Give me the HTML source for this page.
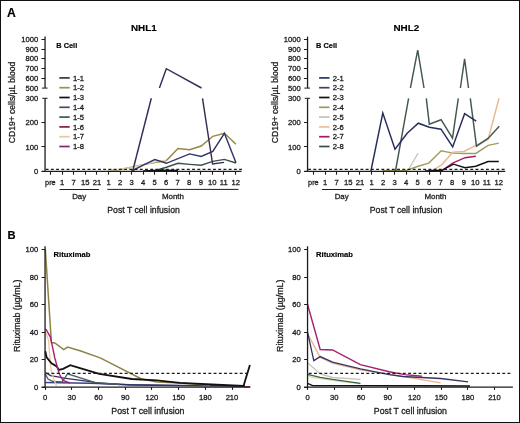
<!DOCTYPE html>
<html><head><meta charset="utf-8"><style>
html,body{margin:0;padding:0;background:#fff;}
svg{display:block;filter:blur(0.45px);}
text{font-family:"Liberation Sans", sans-serif;}
</style></head><body>
<svg width="520" height="423" viewBox="0 0 520 423" font-family='"Liberation Sans", sans-serif'>
<rect x="0" y="0" width="520" height="423" fill="#fff"/>
<polyline points="108.40,170.60 120.00,169.50 131.60,167.30 143.20,164.60 154.80,162.50 166.40,160.50 178.00,148.50 189.60,149.80 201.20,146.00 212.80,136.30 224.40,133.30 236.00,144.30" fill="none" stroke="#978646" stroke-width="1.45" stroke-linejoin="miter" stroke-linecap="butt" />
<polyline points="108.40,170.60 131.60,167.60 154.80,161.80 166.40,160.00" fill="none" stroke="#e6dcae" stroke-width="1.2" stroke-linejoin="miter" stroke-linecap="butt" />
<polyline points="154.80,170.80 166.40,167.20 178.00,163.30 189.60,164.40 201.20,165.30 212.80,161.40 224.40,159.40 236.00,163.00" fill="none" stroke="#3c5048" stroke-width="1.45" stroke-linejoin="miter" stroke-linecap="butt" />
<polyline points="131.60,171.00 143.20,165.20 154.80,159.50 166.40,163.30 189.60,153.90 201.20,156.50 212.80,151.40 224.40,133.30 236.00,162.80" fill="none" stroke="#2f3568" stroke-width="1.45" stroke-linejoin="miter" stroke-linecap="butt" />
<polyline points="132.60,171.20 151.30,98.30" fill="none" stroke="#3a2b58" stroke-width="1.45" stroke-linejoin="miter" stroke-linecap="butt" />
<polyline points="159.40,88.00 166.30,68.70 201.50,88.00" fill="none" stroke="#3a2b58" stroke-width="1.45" stroke-linejoin="miter" stroke-linecap="butt" />
<polyline points="202.50,98.30 212.60,164.00 224.00,162.40" fill="none" stroke="#3a2b58" stroke-width="1.45" stroke-linejoin="miter" stroke-linecap="butt" />
<polyline points="152.00,171.00 166.40,171.00" fill="none" stroke="#b0284a" stroke-width="1.4" stroke-linejoin="miter" stroke-linecap="butt" />
<polyline points="143.20,171.00 154.80,170.40 166.40,170.20 178.00,170.40" fill="none" stroke="#111" stroke-width="1.4" stroke-linejoin="miter" stroke-linecap="butt" />
<polyline points="408.10,170.20 418.10,153.10" fill="none" stroke="#c6c2ba" stroke-width="1.2" stroke-linejoin="miter" stroke-linecap="butt" />
<polyline points="382.50,170.60 405.70,170.60 418.10,166.20 428.80,163.10 441.20,150.80 452.70,153.10 464.20,153.40 475.80,153.40 488.10,145.40 498.80,143.10" fill="none" stroke="#a39c62" stroke-width="1.45" stroke-linejoin="miter" stroke-linecap="butt" />
<polyline points="429.00,171.00 434.20,169.70 441.90,164.60 452.70,152.30 464.20,151.50 475.80,145.40 488.10,139.50 499.00,98.30" fill="none" stroke="#e9b98e" stroke-width="1.45" stroke-linejoin="miter" stroke-linecap="butt" />
<polyline points="441.90,170.50 452.70,163.10 465.00,157.70 475.80,156.20" fill="none" stroke="#a8186c" stroke-width="1.45" stroke-linejoin="miter" stroke-linecap="butt" />
<polyline points="425.00,171.00 441.90,170.30 453.50,164.20 465.00,167.70 475.80,166.20 488.10,161.50 498.80,161.50" fill="none" stroke="#111" stroke-width="1.4" stroke-linejoin="miter" stroke-linecap="butt" />
<polyline points="395.50,171.00 408.60,98.30" fill="none" stroke="#435850" stroke-width="1.45" stroke-linejoin="miter" stroke-linecap="butt" />
<polyline points="410.40,88.00 417.70,50.20 424.00,88.00" fill="none" stroke="#435850" stroke-width="1.45" stroke-linejoin="miter" stroke-linecap="butt" />
<polyline points="426.30,98.30 429.30,124.20 441.10,119.70 452.50,138.20 458.30,98.30" fill="none" stroke="#435850" stroke-width="1.45" stroke-linejoin="miter" stroke-linecap="butt" />
<polyline points="460.40,88.00 464.60,58.80 468.50,88.00" fill="none" stroke="#435850" stroke-width="1.45" stroke-linejoin="miter" stroke-linecap="butt" />
<polyline points="470.30,98.30 476.50,146.20 488.30,138.20 499.30,126.20" fill="none" stroke="#435850" stroke-width="1.45" stroke-linejoin="miter" stroke-linecap="butt" />
<polyline points="370.90,171.00 382.80,113.10 395.00,149.20 407.20,133.20 418.30,123.20 429.30,127.20 441.00,129.20 452.70,146.90 464.60,113.70 476.20,121.20" fill="none" stroke="#272d5c" stroke-width="1.45" stroke-linejoin="miter" stroke-linecap="butt" />
<polyline points="45.30,382.50 90.00,383.20 130.00,384.60 200.00,385.60 245.00,386.00" fill="none" stroke="#3c4288" stroke-width="1.4" stroke-linejoin="miter" stroke-linecap="butt" />
<polyline points="45.30,372.50 50.60,375.70 59.20,377.10 64.00,378.10 90.00,381.60 99.20,383.30 130.00,385.00 180.00,385.60 245.00,385.90" fill="none" stroke="#33305e" stroke-width="1.4" stroke-linejoin="miter" stroke-linecap="butt" />
<polyline points="45.30,374.00 48.00,379.00 53.00,381.50 62.10,382.00 67.50,373.80 94.60,382.40 120.00,384.50" fill="none" stroke="#4a5e62" stroke-width="1.3" stroke-linejoin="miter" stroke-linecap="butt" />
<polyline points="45.30,331.00 48.50,340.00 50.90,369.50 53.80,379.00 56.50,386.00" fill="none" stroke="#ecc9a0" stroke-width="1.3" stroke-linejoin="miter" stroke-linecap="butt" />
<polyline points="45.30,249.00 51.40,342.50 54.80,343.00 63.70,349.70 67.60,347.10 80.00,350.80 100.20,357.90 141.50,379.00 156.90,381.90 180.00,383.00 210.00,385.20" fill="none" stroke="#8e8244" stroke-width="1.5" stroke-linejoin="miter" stroke-linecap="butt" />
<polyline points="45.30,351.30 46.60,357.30 51.50,363.20 56.80,366.50 58.80,369.90 63.10,368.90 70.30,365.10 80.00,368.10 99.20,373.80 131.90,379.00 156.90,380.40 180.00,382.90 243.50,386.00 249.90,365.10" fill="none" stroke="#111" stroke-width="1.8" stroke-linejoin="miter" stroke-linecap="butt" />
<polyline points="45.30,329.00 46.30,329.70 50.50,337.30 54.80,358.00 59.20,373.80 63.00,380.50 70.00,383.00" fill="none" stroke="#a8207a" stroke-width="1.4" stroke-linejoin="miter" stroke-linecap="butt" />
<polyline points="244.00,386.80 250.00,386.80" fill="none" stroke="#7a3040" stroke-width="1.4" stroke-linejoin="miter" stroke-linecap="butt" />
<polyline points="307.50,383.30 312.70,385.60 420.00,385.80 470.00,386.00" fill="none" stroke="#111" stroke-width="1.4" stroke-linejoin="miter" stroke-linecap="butt" />
<polyline points="307.50,375.30 311.50,377.40 320.00,378.50 332.50,380.50 360.40,383.80" fill="none" stroke="#d8da9a" stroke-width="1.2" stroke-linejoin="miter" stroke-linecap="butt" />
<polyline points="307.50,374.40 320.20,377.30 332.50,379.40 360.40,383.30" fill="none" stroke="#3a6050" stroke-width="1.3" stroke-linejoin="miter" stroke-linecap="butt" />
<polyline points="307.50,362.80 320.20,374.00 332.50,377.50 360.40,379.40" fill="none" stroke="#c6c4bc" stroke-width="1.3" stroke-linejoin="miter" stroke-linecap="butt" />
<polyline points="307.50,333.50 320.20,357.40 332.50,363.10 360.40,369.80 389.20,374.20 420.00,379.40 440.70,382.80" fill="none" stroke="#e6b48c" stroke-width="1.3" stroke-linejoin="miter" stroke-linecap="butt" />
<polyline points="307.50,331.80 313.80,360.60 320.20,356.60 332.50,362.10 360.40,368.80 389.20,374.60 402.70,376.50 440.70,378.50 468.10,381.90" fill="none" stroke="#3a3262" stroke-width="1.3" stroke-linejoin="miter" stroke-linecap="butt" />
<polyline points="307.50,304.30 320.20,349.50 332.50,350.00 360.40,364.60 389.20,371.70 404.60,374.60 422.00,376.20" fill="none" stroke="#a4206e" stroke-width="1.4" stroke-linejoin="miter" stroke-linecap="butt" />
<line x1="45.05" y1="36.60" x2="45.05" y2="88.10" stroke="#1c1c1c" stroke-width="1.3" />
<line x1="45.05" y1="98.30" x2="45.05" y2="171.90" stroke="#1c1c1c" stroke-width="1.3" />
<line x1="41.85" y1="88.10" x2="47.55" y2="88.10" stroke="#1c1c1c" stroke-width="1.0" />
<line x1="42.25" y1="98.30" x2="47.55" y2="98.30" stroke="#1c1c1c" stroke-width="1.0" />
<line x1="41.45" y1="39.50" x2="45.05" y2="39.50" stroke="#1c1c1c" stroke-width="1.0" />
<text x="38.15" y="42.00" font-size="7.65" text-anchor="end" fill="#1a1a1a" stroke="#1a1a1a" stroke-width="0.28" >1000</text>
<line x1="41.45" y1="49.50" x2="45.05" y2="49.50" stroke="#1c1c1c" stroke-width="1.0" />
<text x="38.15" y="51.74" font-size="7.65" text-anchor="end" fill="#1a1a1a" stroke="#1a1a1a" stroke-width="0.28" >900</text>
<line x1="41.45" y1="58.50" x2="45.05" y2="58.50" stroke="#1c1c1c" stroke-width="1.0" />
<text x="38.15" y="61.48" font-size="7.65" text-anchor="end" fill="#1a1a1a" stroke="#1a1a1a" stroke-width="0.28" >800</text>
<line x1="41.45" y1="68.50" x2="45.05" y2="68.50" stroke="#1c1c1c" stroke-width="1.0" />
<text x="38.15" y="71.22" font-size="7.65" text-anchor="end" fill="#1a1a1a" stroke="#1a1a1a" stroke-width="0.28" >700</text>
<line x1="41.45" y1="78.50" x2="45.05" y2="78.50" stroke="#1c1c1c" stroke-width="1.0" />
<text x="38.15" y="80.96" font-size="7.65" text-anchor="end" fill="#1a1a1a" stroke="#1a1a1a" stroke-width="0.28" >600</text>
<text x="38.15" y="90.70" font-size="7.65" text-anchor="end" fill="#1a1a1a" stroke="#1a1a1a" stroke-width="0.28" >500</text>
<text x="38.15" y="100.91" font-size="7.65" text-anchor="end" fill="#1a1a1a" stroke="#1a1a1a" stroke-width="0.28" >300</text>
<line x1="41.45" y1="122.50" x2="45.05" y2="122.50" stroke="#1c1c1c" stroke-width="1.0" />
<text x="38.15" y="125.24" font-size="7.65" text-anchor="end" fill="#1a1a1a" stroke="#1a1a1a" stroke-width="0.28" >200</text>
<line x1="41.45" y1="146.50" x2="45.05" y2="146.50" stroke="#1c1c1c" stroke-width="1.0" />
<text x="38.15" y="149.57" font-size="7.65" text-anchor="end" fill="#1a1a1a" stroke="#1a1a1a" stroke-width="0.28" >100</text>
<line x1="41.45" y1="171.50" x2="45.05" y2="171.50" stroke="#1c1c1c" stroke-width="1.0" />
<text x="38.15" y="173.90" font-size="7.65" text-anchor="end" fill="#1a1a1a" stroke="#1a1a1a" stroke-width="0.28" >0</text>
<line x1="41.85" y1="171.30" x2="241.50" y2="171.30" stroke="#1c1c1c" stroke-width="1.25" />
<line x1="50.50" y1="171.30" x2="50.50" y2="174.70" stroke="#1c1c1c" stroke-width="1.1" />
<text x="50.40" y="184.80" font-size="7.65" text-anchor="middle" fill="#1a1a1a" stroke="#1a1a1a" stroke-width="0.28" textLength="10.6" lengthAdjust="spacingAndGlyphs" >pre</text>
<line x1="62.50" y1="171.30" x2="62.50" y2="174.70" stroke="#1c1c1c" stroke-width="1.1" />
<text x="62.20" y="184.80" font-size="7.65" text-anchor="middle" fill="#1a1a1a" stroke="#1a1a1a" stroke-width="0.28" >1</text>
<line x1="73.50" y1="171.30" x2="73.50" y2="174.70" stroke="#1c1c1c" stroke-width="1.1" />
<text x="73.70" y="184.80" font-size="7.65" text-anchor="middle" fill="#1a1a1a" stroke="#1a1a1a" stroke-width="0.28" >7</text>
<line x1="85.50" y1="171.30" x2="85.50" y2="174.70" stroke="#1c1c1c" stroke-width="1.1" />
<text x="85.30" y="184.80" font-size="7.65" text-anchor="middle" fill="#1a1a1a" stroke="#1a1a1a" stroke-width="0.28" >15</text>
<line x1="96.50" y1="171.30" x2="96.50" y2="174.70" stroke="#1c1c1c" stroke-width="1.1" />
<text x="96.90" y="184.80" font-size="7.65" text-anchor="middle" fill="#1a1a1a" stroke="#1a1a1a" stroke-width="0.28" >21</text>
<line x1="108.50" y1="171.30" x2="108.50" y2="174.70" stroke="#1c1c1c" stroke-width="1.1" />
<text x="108.50" y="184.80" font-size="7.65" text-anchor="middle" fill="#1a1a1a" stroke="#1a1a1a" stroke-width="0.28" >1</text>
<line x1="120.50" y1="171.30" x2="120.50" y2="174.70" stroke="#1c1c1c" stroke-width="1.1" />
<text x="120.10" y="184.80" font-size="7.65" text-anchor="middle" fill="#1a1a1a" stroke="#1a1a1a" stroke-width="0.28" >2</text>
<line x1="131.50" y1="171.30" x2="131.50" y2="174.70" stroke="#1c1c1c" stroke-width="1.1" />
<text x="131.50" y="184.80" font-size="7.65" text-anchor="middle" fill="#1a1a1a" stroke="#1a1a1a" stroke-width="0.28" >3</text>
<line x1="143.50" y1="171.30" x2="143.50" y2="174.70" stroke="#1c1c1c" stroke-width="1.1" />
<text x="143.20" y="184.80" font-size="7.65" text-anchor="middle" fill="#1a1a1a" stroke="#1a1a1a" stroke-width="0.28" >4</text>
<line x1="154.50" y1="171.30" x2="154.50" y2="174.70" stroke="#1c1c1c" stroke-width="1.1" />
<text x="154.70" y="184.80" font-size="7.65" text-anchor="middle" fill="#1a1a1a" stroke="#1a1a1a" stroke-width="0.28" >5</text>
<line x1="166.50" y1="171.30" x2="166.50" y2="174.70" stroke="#1c1c1c" stroke-width="1.1" />
<text x="166.20" y="184.80" font-size="7.65" text-anchor="middle" fill="#1a1a1a" stroke="#1a1a1a" stroke-width="0.28" >6</text>
<line x1="177.50" y1="171.30" x2="177.50" y2="174.70" stroke="#1c1c1c" stroke-width="1.1" />
<text x="177.70" y="184.80" font-size="7.65" text-anchor="middle" fill="#1a1a1a" stroke="#1a1a1a" stroke-width="0.28" >7</text>
<line x1="189.50" y1="171.30" x2="189.50" y2="174.70" stroke="#1c1c1c" stroke-width="1.1" />
<text x="189.20" y="184.80" font-size="7.65" text-anchor="middle" fill="#1a1a1a" stroke="#1a1a1a" stroke-width="0.28" >8</text>
<line x1="200.50" y1="171.30" x2="200.50" y2="174.70" stroke="#1c1c1c" stroke-width="1.1" />
<text x="200.80" y="184.80" font-size="7.65" text-anchor="middle" fill="#1a1a1a" stroke="#1a1a1a" stroke-width="0.28" >9</text>
<line x1="212.50" y1="171.30" x2="212.50" y2="174.70" stroke="#1c1c1c" stroke-width="1.1" />
<text x="212.30" y="184.80" font-size="7.65" text-anchor="middle" fill="#1a1a1a" stroke="#1a1a1a" stroke-width="0.28" >10</text>
<line x1="223.50" y1="171.30" x2="223.50" y2="174.70" stroke="#1c1c1c" stroke-width="1.1" />
<text x="223.80" y="184.80" font-size="7.65" text-anchor="middle" fill="#1a1a1a" stroke="#1a1a1a" stroke-width="0.28" >11</text>
<line x1="235.50" y1="171.30" x2="235.50" y2="174.70" stroke="#1c1c1c" stroke-width="1.1" />
<text x="235.70" y="184.80" font-size="7.65" text-anchor="middle" fill="#1a1a1a" stroke="#1a1a1a" stroke-width="0.28" >12</text>
<line x1="45.65" y1="169.30" x2="242.00" y2="169.30" stroke="#1c1c1c" stroke-width="1.15" stroke-dasharray="2.9 2.33"/>
<line x1="59.50" y1="189.50" x2="99.00" y2="189.50" stroke="#1c1c1c" stroke-width="1.0" />
<line x1="107.30" y1="189.40" x2="238.50" y2="189.40" stroke="#1c1c1c" stroke-width="1.0" />
<text x="79.20" y="198.90" font-size="7.9" text-anchor="middle" fill="#1a1a1a" stroke="#1a1a1a" stroke-width="0.28" >Day</text>
<text x="161.90" y="199.40" font-size="7.9" text-anchor="start" fill="#1a1a1a" stroke="#1a1a1a" stroke-width="0.28" textLength="22.1" lengthAdjust="spacingAndGlyphs" >Month</text>
<text x="107.30" y="212.90" font-size="9.1" text-anchor="start" fill="#1a1a1a" stroke="#1a1a1a" stroke-width="0.28" textLength="72.5" lengthAdjust="spacingAndGlyphs" >Post T cell infusion</text>
<text x="130.90" y="31.00" font-size="9.9" text-anchor="start" font-weight="bold" fill="#000" stroke="#000" stroke-width="0.15" >NHL1</text>
<text x="56.30" y="47.90" font-size="7.6" text-anchor="start" font-weight="bold" fill="#000" stroke="#000" stroke-width="0.15" textLength="20.9" lengthAdjust="spacingAndGlyphs" >B Cell</text>
<text transform="translate(15.40,102.5) rotate(-90)" font-size="8.6" text-anchor="middle" fill="#1a1a1a" stroke="#1a1a1a" stroke-width="0.28" textLength="81.4" lengthAdjust="spacingAndGlyphs">CD19+ cells/µL blood</text>
<line x1="59.30" y1="77.90" x2="69.70" y2="77.90" stroke="#34384a" stroke-width="1.7" />
<text x="72.90" y="80.50" font-size="7.65" text-anchor="start" fill="#1a1a1a" stroke="#1a1a1a" stroke-width="0.28" >1-1</text>
<line x1="59.30" y1="87.70" x2="69.70" y2="87.70" stroke="#9c8e5c" stroke-width="1.7" />
<text x="72.90" y="90.30" font-size="7.65" text-anchor="start" fill="#1a1a1a" stroke="#1a1a1a" stroke-width="0.28" >1-2</text>
<line x1="59.30" y1="97.50" x2="69.70" y2="97.50" stroke="#111111" stroke-width="1.7" />
<text x="72.90" y="100.10" font-size="7.65" text-anchor="start" fill="#1a1a1a" stroke="#1a1a1a" stroke-width="0.28" >1-3</text>
<line x1="59.30" y1="107.30" x2="69.70" y2="107.30" stroke="#46486c" stroke-width="1.7" />
<text x="72.90" y="109.90" font-size="7.65" text-anchor="start" fill="#1a1a1a" stroke="#1a1a1a" stroke-width="0.28" >1-4</text>
<line x1="59.30" y1="117.10" x2="69.70" y2="117.10" stroke="#375a4c" stroke-width="1.7" />
<text x="72.90" y="119.70" font-size="7.65" text-anchor="start" fill="#1a1a1a" stroke="#1a1a1a" stroke-width="0.28" >1-5</text>
<line x1="59.30" y1="126.90" x2="69.70" y2="126.90" stroke="#86203f" stroke-width="1.7" />
<text x="72.90" y="129.50" font-size="7.65" text-anchor="start" fill="#1a1a1a" stroke="#1a1a1a" stroke-width="0.28" >1-6</text>
<line x1="59.30" y1="136.70" x2="69.70" y2="136.70" stroke="#e0cba6" stroke-width="1.7" />
<text x="72.90" y="139.30" font-size="7.65" text-anchor="start" fill="#1a1a1a" stroke="#1a1a1a" stroke-width="0.28" >1-7</text>
<line x1="59.30" y1="146.50" x2="69.70" y2="146.50" stroke="#7e2868" stroke-width="1.7" />
<text x="72.90" y="149.10" font-size="7.65" text-anchor="start" fill="#1a1a1a" stroke="#1a1a1a" stroke-width="0.28" >1-8</text>
<line x1="307.55" y1="36.60" x2="307.55" y2="88.10" stroke="#1c1c1c" stroke-width="1.3" />
<line x1="307.55" y1="98.30" x2="307.55" y2="171.90" stroke="#1c1c1c" stroke-width="1.3" />
<line x1="304.35" y1="88.10" x2="310.05" y2="88.10" stroke="#1c1c1c" stroke-width="1.0" />
<line x1="304.75" y1="98.30" x2="310.05" y2="98.30" stroke="#1c1c1c" stroke-width="1.0" />
<line x1="303.95" y1="39.50" x2="307.55" y2="39.50" stroke="#1c1c1c" stroke-width="1.0" />
<text x="300.65" y="42.00" font-size="7.65" text-anchor="end" fill="#1a1a1a" stroke="#1a1a1a" stroke-width="0.28" >1000</text>
<line x1="303.95" y1="49.50" x2="307.55" y2="49.50" stroke="#1c1c1c" stroke-width="1.0" />
<text x="300.65" y="51.74" font-size="7.65" text-anchor="end" fill="#1a1a1a" stroke="#1a1a1a" stroke-width="0.28" >900</text>
<line x1="303.95" y1="58.50" x2="307.55" y2="58.50" stroke="#1c1c1c" stroke-width="1.0" />
<text x="300.65" y="61.48" font-size="7.65" text-anchor="end" fill="#1a1a1a" stroke="#1a1a1a" stroke-width="0.28" >800</text>
<line x1="303.95" y1="68.50" x2="307.55" y2="68.50" stroke="#1c1c1c" stroke-width="1.0" />
<text x="300.65" y="71.22" font-size="7.65" text-anchor="end" fill="#1a1a1a" stroke="#1a1a1a" stroke-width="0.28" >700</text>
<line x1="303.95" y1="78.50" x2="307.55" y2="78.50" stroke="#1c1c1c" stroke-width="1.0" />
<text x="300.65" y="80.96" font-size="7.65" text-anchor="end" fill="#1a1a1a" stroke="#1a1a1a" stroke-width="0.28" >600</text>
<text x="300.65" y="90.70" font-size="7.65" text-anchor="end" fill="#1a1a1a" stroke="#1a1a1a" stroke-width="0.28" >500</text>
<text x="300.65" y="100.91" font-size="7.65" text-anchor="end" fill="#1a1a1a" stroke="#1a1a1a" stroke-width="0.28" >300</text>
<line x1="303.95" y1="122.50" x2="307.55" y2="122.50" stroke="#1c1c1c" stroke-width="1.0" />
<text x="300.65" y="125.24" font-size="7.65" text-anchor="end" fill="#1a1a1a" stroke="#1a1a1a" stroke-width="0.28" >200</text>
<line x1="303.95" y1="146.50" x2="307.55" y2="146.50" stroke="#1c1c1c" stroke-width="1.0" />
<text x="300.65" y="149.57" font-size="7.65" text-anchor="end" fill="#1a1a1a" stroke="#1a1a1a" stroke-width="0.28" >100</text>
<line x1="303.95" y1="171.50" x2="307.55" y2="171.50" stroke="#1c1c1c" stroke-width="1.0" />
<text x="300.65" y="173.90" font-size="7.65" text-anchor="end" fill="#1a1a1a" stroke="#1a1a1a" stroke-width="0.28" >0</text>
<line x1="304.35" y1="171.30" x2="505.29" y2="171.30" stroke="#1c1c1c" stroke-width="1.25" />
<line x1="313.50" y1="171.30" x2="313.50" y2="174.70" stroke="#1c1c1c" stroke-width="1.1" />
<text x="313.40" y="184.80" font-size="7.65" text-anchor="middle" fill="#1a1a1a" stroke="#1a1a1a" stroke-width="0.28" textLength="10.6" lengthAdjust="spacingAndGlyphs" >pre</text>
<line x1="325.50" y1="171.30" x2="325.50" y2="174.70" stroke="#1c1c1c" stroke-width="1.1" />
<text x="325.20" y="184.80" font-size="7.65" text-anchor="middle" fill="#1a1a1a" stroke="#1a1a1a" stroke-width="0.28" >1</text>
<line x1="336.50" y1="171.30" x2="336.50" y2="174.70" stroke="#1c1c1c" stroke-width="1.1" />
<text x="336.70" y="184.80" font-size="7.65" text-anchor="middle" fill="#1a1a1a" stroke="#1a1a1a" stroke-width="0.28" >7</text>
<line x1="348.50" y1="171.30" x2="348.50" y2="174.70" stroke="#1c1c1c" stroke-width="1.1" />
<text x="348.30" y="184.80" font-size="7.65" text-anchor="middle" fill="#1a1a1a" stroke="#1a1a1a" stroke-width="0.28" >15</text>
<line x1="359.50" y1="171.30" x2="359.50" y2="174.70" stroke="#1c1c1c" stroke-width="1.1" />
<text x="359.90" y="184.80" font-size="7.65" text-anchor="middle" fill="#1a1a1a" stroke="#1a1a1a" stroke-width="0.28" >21</text>
<line x1="371.50" y1="171.30" x2="371.50" y2="174.70" stroke="#1c1c1c" stroke-width="1.1" />
<text x="371.50" y="184.80" font-size="7.65" text-anchor="middle" fill="#1a1a1a" stroke="#1a1a1a" stroke-width="0.28" >1</text>
<line x1="383.50" y1="171.30" x2="383.50" y2="174.70" stroke="#1c1c1c" stroke-width="1.1" />
<text x="383.10" y="184.80" font-size="7.65" text-anchor="middle" fill="#1a1a1a" stroke="#1a1a1a" stroke-width="0.28" >2</text>
<line x1="394.50" y1="171.30" x2="394.50" y2="174.70" stroke="#1c1c1c" stroke-width="1.1" />
<text x="394.50" y="184.80" font-size="7.65" text-anchor="middle" fill="#1a1a1a" stroke="#1a1a1a" stroke-width="0.28" >3</text>
<line x1="406.50" y1="171.30" x2="406.50" y2="174.70" stroke="#1c1c1c" stroke-width="1.1" />
<text x="406.20" y="184.80" font-size="7.65" text-anchor="middle" fill="#1a1a1a" stroke="#1a1a1a" stroke-width="0.28" >4</text>
<line x1="417.50" y1="171.30" x2="417.50" y2="174.70" stroke="#1c1c1c" stroke-width="1.1" />
<text x="417.70" y="184.80" font-size="7.65" text-anchor="middle" fill="#1a1a1a" stroke="#1a1a1a" stroke-width="0.28" >5</text>
<line x1="429.50" y1="171.30" x2="429.50" y2="174.70" stroke="#1c1c1c" stroke-width="1.1" />
<text x="429.20" y="184.80" font-size="7.65" text-anchor="middle" fill="#1a1a1a" stroke="#1a1a1a" stroke-width="0.28" >6</text>
<line x1="440.50" y1="171.30" x2="440.50" y2="174.70" stroke="#1c1c1c" stroke-width="1.1" />
<text x="440.70" y="184.80" font-size="7.65" text-anchor="middle" fill="#1a1a1a" stroke="#1a1a1a" stroke-width="0.28" >7</text>
<line x1="452.50" y1="171.30" x2="452.50" y2="174.70" stroke="#1c1c1c" stroke-width="1.1" />
<text x="452.20" y="184.80" font-size="7.65" text-anchor="middle" fill="#1a1a1a" stroke="#1a1a1a" stroke-width="0.28" >8</text>
<line x1="463.50" y1="171.30" x2="463.50" y2="174.70" stroke="#1c1c1c" stroke-width="1.1" />
<text x="463.80" y="184.80" font-size="7.65" text-anchor="middle" fill="#1a1a1a" stroke="#1a1a1a" stroke-width="0.28" >9</text>
<line x1="475.50" y1="171.30" x2="475.50" y2="174.70" stroke="#1c1c1c" stroke-width="1.1" />
<text x="475.30" y="184.80" font-size="7.65" text-anchor="middle" fill="#1a1a1a" stroke="#1a1a1a" stroke-width="0.28" >10</text>
<line x1="486.50" y1="171.30" x2="486.50" y2="174.70" stroke="#1c1c1c" stroke-width="1.1" />
<text x="486.80" y="184.80" font-size="7.65" text-anchor="middle" fill="#1a1a1a" stroke="#1a1a1a" stroke-width="0.28" >11</text>
<line x1="498.50" y1="171.30" x2="498.50" y2="174.70" stroke="#1c1c1c" stroke-width="1.1" />
<text x="498.70" y="184.80" font-size="7.65" text-anchor="middle" fill="#1a1a1a" stroke="#1a1a1a" stroke-width="0.28" >12</text>
<line x1="308.15" y1="169.30" x2="505.79" y2="169.30" stroke="#1c1c1c" stroke-width="1.15" stroke-dasharray="2.9 2.33"/>
<line x1="322.00" y1="189.50" x2="361.50" y2="189.50" stroke="#1c1c1c" stroke-width="1.0" />
<line x1="369.80" y1="189.40" x2="501.00" y2="189.40" stroke="#1c1c1c" stroke-width="1.0" />
<text x="341.70" y="198.90" font-size="7.9" text-anchor="middle" fill="#1a1a1a" stroke="#1a1a1a" stroke-width="0.28" >Day</text>
<text x="424.40" y="199.40" font-size="7.9" text-anchor="start" fill="#1a1a1a" stroke="#1a1a1a" stroke-width="0.28" textLength="22.1" lengthAdjust="spacingAndGlyphs" >Month</text>
<text x="369.80" y="212.90" font-size="9.1" text-anchor="start" fill="#1a1a1a" stroke="#1a1a1a" stroke-width="0.28" textLength="72.5" lengthAdjust="spacingAndGlyphs" >Post T cell infusion</text>
<text x="393.40" y="31.00" font-size="9.9" text-anchor="start" font-weight="bold" fill="#000" stroke="#000" stroke-width="0.15" >NHL2</text>
<text x="316.10" y="47.90" font-size="7.6" text-anchor="start" font-weight="bold" fill="#000" stroke="#000" stroke-width="0.15" textLength="20.9" lengthAdjust="spacingAndGlyphs" >B Cell</text>
<text transform="translate(277.90,102.5) rotate(-90)" font-size="8.6" text-anchor="middle" fill="#1a1a1a" stroke="#1a1a1a" stroke-width="0.28" textLength="81.4" lengthAdjust="spacingAndGlyphs">CD19+ cells/µL blood</text>
<line x1="319.10" y1="77.90" x2="329.50" y2="77.90" stroke="#293664" stroke-width="1.7" />
<text x="332.70" y="80.50" font-size="7.65" text-anchor="start" fill="#1a1a1a" stroke="#1a1a1a" stroke-width="0.28" >2-1</text>
<line x1="319.10" y1="87.70" x2="329.50" y2="87.70" stroke="#463f5e" stroke-width="1.7" />
<text x="332.70" y="90.30" font-size="7.65" text-anchor="start" fill="#1a1a1a" stroke="#1a1a1a" stroke-width="0.28" >2-2</text>
<line x1="319.10" y1="97.50" x2="329.50" y2="97.50" stroke="#111111" stroke-width="1.7" />
<text x="332.70" y="100.10" font-size="7.65" text-anchor="start" fill="#1a1a1a" stroke="#1a1a1a" stroke-width="0.28" >2-3</text>
<line x1="319.10" y1="107.30" x2="329.50" y2="107.30" stroke="#a09864" stroke-width="1.7" />
<text x="332.70" y="109.90" font-size="7.65" text-anchor="start" fill="#1a1a1a" stroke="#1a1a1a" stroke-width="0.28" >2-4</text>
<line x1="319.10" y1="117.10" x2="329.50" y2="117.10" stroke="#c4c0b8" stroke-width="1.7" />
<text x="332.70" y="119.70" font-size="7.65" text-anchor="start" fill="#1a1a1a" stroke="#1a1a1a" stroke-width="0.28" >2-5</text>
<line x1="319.10" y1="126.90" x2="329.50" y2="126.90" stroke="#ebc093" stroke-width="1.7" />
<text x="332.70" y="129.50" font-size="7.65" text-anchor="start" fill="#1a1a1a" stroke="#1a1a1a" stroke-width="0.28" >2-6</text>
<line x1="319.10" y1="136.70" x2="329.50" y2="136.70" stroke="#a01868" stroke-width="1.7" />
<text x="332.70" y="139.30" font-size="7.65" text-anchor="start" fill="#1a1a1a" stroke="#1a1a1a" stroke-width="0.28" >2-7</text>
<line x1="319.10" y1="146.50" x2="329.50" y2="146.50" stroke="#364e44" stroke-width="1.7" />
<text x="332.70" y="149.10" font-size="7.65" text-anchor="start" fill="#1a1a1a" stroke="#1a1a1a" stroke-width="0.28" >2-8</text>
<line x1="45.05" y1="246.30" x2="45.05" y2="387.70" stroke="#1c1c1c" stroke-width="1.3" />
<line x1="41.65" y1="249.50" x2="45.05" y2="249.50" stroke="#1c1c1c" stroke-width="1.0" />
<text x="38.15" y="252.20" font-size="7.65" text-anchor="end" fill="#1a1a1a" stroke="#1a1a1a" stroke-width="0.28" >100</text>
<line x1="41.65" y1="277.50" x2="45.05" y2="277.50" stroke="#1c1c1c" stroke-width="1.0" />
<text x="38.15" y="279.70" font-size="7.65" text-anchor="end" fill="#1a1a1a" stroke="#1a1a1a" stroke-width="0.28" >80</text>
<line x1="41.65" y1="304.50" x2="45.05" y2="304.50" stroke="#1c1c1c" stroke-width="1.0" />
<text x="38.15" y="307.20" font-size="7.65" text-anchor="end" fill="#1a1a1a" stroke="#1a1a1a" stroke-width="0.28" >60</text>
<line x1="41.65" y1="332.50" x2="45.05" y2="332.50" stroke="#1c1c1c" stroke-width="1.0" />
<text x="38.15" y="334.70" font-size="7.65" text-anchor="end" fill="#1a1a1a" stroke="#1a1a1a" stroke-width="0.28" >40</text>
<line x1="41.65" y1="359.50" x2="45.05" y2="359.50" stroke="#1c1c1c" stroke-width="1.0" />
<text x="38.15" y="362.20" font-size="7.65" text-anchor="end" fill="#1a1a1a" stroke="#1a1a1a" stroke-width="0.28" >20</text>
<line x1="41.65" y1="387.50" x2="45.05" y2="387.50" stroke="#1c1c1c" stroke-width="1.0" />
<text x="38.15" y="389.70" font-size="7.65" text-anchor="end" fill="#1a1a1a" stroke="#1a1a1a" stroke-width="0.28" >0</text>
<line x1="41.65" y1="387.10" x2="250.40" y2="387.10" stroke="#1c1c1c" stroke-width="1.25" />
<line x1="45.50" y1="387.10" x2="45.50" y2="389.90" stroke="#1c1c1c" stroke-width="1.1" />
<text x="45.10" y="400.30" font-size="7.65" text-anchor="middle" fill="#1a1a1a" stroke="#1a1a1a" stroke-width="0.28" >0</text>
<line x1="71.50" y1="387.10" x2="71.50" y2="389.90" stroke="#1c1c1c" stroke-width="1.1" />
<text x="71.80" y="400.30" font-size="7.65" text-anchor="middle" fill="#1a1a1a" stroke="#1a1a1a" stroke-width="0.28" >30</text>
<line x1="98.50" y1="387.10" x2="98.50" y2="389.90" stroke="#1c1c1c" stroke-width="1.1" />
<text x="98.50" y="400.30" font-size="7.65" text-anchor="middle" fill="#1a1a1a" stroke="#1a1a1a" stroke-width="0.28" >60</text>
<line x1="125.50" y1="387.10" x2="125.50" y2="389.90" stroke="#1c1c1c" stroke-width="1.1" />
<text x="125.20" y="400.30" font-size="7.65" text-anchor="middle" fill="#1a1a1a" stroke="#1a1a1a" stroke-width="0.28" >90</text>
<line x1="151.50" y1="387.10" x2="151.50" y2="389.90" stroke="#1c1c1c" stroke-width="1.1" />
<text x="151.90" y="400.30" font-size="7.65" text-anchor="middle" fill="#1a1a1a" stroke="#1a1a1a" stroke-width="0.28" >120</text>
<line x1="178.50" y1="387.10" x2="178.50" y2="389.90" stroke="#1c1c1c" stroke-width="1.1" />
<text x="178.60" y="400.30" font-size="7.65" text-anchor="middle" fill="#1a1a1a" stroke="#1a1a1a" stroke-width="0.28" >150</text>
<line x1="205.50" y1="387.10" x2="205.50" y2="389.90" stroke="#1c1c1c" stroke-width="1.1" />
<text x="205.30" y="400.30" font-size="7.65" text-anchor="middle" fill="#1a1a1a" stroke="#1a1a1a" stroke-width="0.28" >180</text>
<line x1="232.50" y1="387.10" x2="232.50" y2="389.90" stroke="#1c1c1c" stroke-width="1.1" />
<text x="232.00" y="400.30" font-size="7.65" text-anchor="middle" fill="#1a1a1a" stroke="#1a1a1a" stroke-width="0.28" >210</text>
<line x1="46.25" y1="373.40" x2="248.50" y2="373.40" stroke="#1c1c1c" stroke-width="1.15" stroke-dasharray="2.9 2.33"/>
<text x="111.30" y="413.70" font-size="9.1" text-anchor="start" fill="#1a1a1a" stroke="#1a1a1a" stroke-width="0.28" textLength="73.2" lengthAdjust="spacingAndGlyphs" >Post T cell infusion</text>
<text x="53.50" y="257.00" font-size="7.6" text-anchor="start" font-weight="bold" fill="#000" stroke="#000" stroke-width="0.15" textLength="36.9" lengthAdjust="spacingAndGlyphs" >Rituximab</text>
<text transform="translate(20.20,315.8) rotate(-90)" font-size="8.7" text-anchor="middle" fill="#1a1a1a" stroke="#1a1a1a" stroke-width="0.28" textLength="72.3" lengthAdjust="spacingAndGlyphs">Rituximab (µg/mL)</text>
<line x1="307.55" y1="246.30" x2="307.55" y2="387.70" stroke="#1c1c1c" stroke-width="1.3" />
<line x1="304.15" y1="249.50" x2="307.55" y2="249.50" stroke="#1c1c1c" stroke-width="1.0" />
<text x="300.65" y="252.20" font-size="7.65" text-anchor="end" fill="#1a1a1a" stroke="#1a1a1a" stroke-width="0.28" >100</text>
<line x1="304.15" y1="277.50" x2="307.55" y2="277.50" stroke="#1c1c1c" stroke-width="1.0" />
<text x="300.65" y="279.70" font-size="7.65" text-anchor="end" fill="#1a1a1a" stroke="#1a1a1a" stroke-width="0.28" >80</text>
<line x1="304.15" y1="304.50" x2="307.55" y2="304.50" stroke="#1c1c1c" stroke-width="1.0" />
<text x="300.65" y="307.20" font-size="7.65" text-anchor="end" fill="#1a1a1a" stroke="#1a1a1a" stroke-width="0.28" >60</text>
<line x1="304.15" y1="332.50" x2="307.55" y2="332.50" stroke="#1c1c1c" stroke-width="1.0" />
<text x="300.65" y="334.70" font-size="7.65" text-anchor="end" fill="#1a1a1a" stroke="#1a1a1a" stroke-width="0.28" >40</text>
<line x1="304.15" y1="359.50" x2="307.55" y2="359.50" stroke="#1c1c1c" stroke-width="1.0" />
<text x="300.65" y="362.20" font-size="7.65" text-anchor="end" fill="#1a1a1a" stroke="#1a1a1a" stroke-width="0.28" >20</text>
<line x1="304.15" y1="387.50" x2="307.55" y2="387.50" stroke="#1c1c1c" stroke-width="1.0" />
<text x="300.65" y="389.70" font-size="7.65" text-anchor="end" fill="#1a1a1a" stroke="#1a1a1a" stroke-width="0.28" >0</text>
<line x1="304.15" y1="387.10" x2="512.90" y2="387.10" stroke="#1c1c1c" stroke-width="1.25" />
<line x1="307.50" y1="387.10" x2="307.50" y2="389.90" stroke="#1c1c1c" stroke-width="1.1" />
<text x="307.60" y="400.30" font-size="7.65" text-anchor="middle" fill="#1a1a1a" stroke="#1a1a1a" stroke-width="0.28" >0</text>
<line x1="334.50" y1="387.10" x2="334.50" y2="389.90" stroke="#1c1c1c" stroke-width="1.1" />
<text x="334.30" y="400.30" font-size="7.65" text-anchor="middle" fill="#1a1a1a" stroke="#1a1a1a" stroke-width="0.28" >30</text>
<line x1="361.50" y1="387.10" x2="361.50" y2="389.90" stroke="#1c1c1c" stroke-width="1.1" />
<text x="361.00" y="400.30" font-size="7.65" text-anchor="middle" fill="#1a1a1a" stroke="#1a1a1a" stroke-width="0.28" >60</text>
<line x1="387.50" y1="387.10" x2="387.50" y2="389.90" stroke="#1c1c1c" stroke-width="1.1" />
<text x="387.70" y="400.30" font-size="7.65" text-anchor="middle" fill="#1a1a1a" stroke="#1a1a1a" stroke-width="0.28" >90</text>
<line x1="414.50" y1="387.10" x2="414.50" y2="389.90" stroke="#1c1c1c" stroke-width="1.1" />
<text x="414.40" y="400.30" font-size="7.65" text-anchor="middle" fill="#1a1a1a" stroke="#1a1a1a" stroke-width="0.28" >120</text>
<line x1="441.50" y1="387.10" x2="441.50" y2="389.90" stroke="#1c1c1c" stroke-width="1.1" />
<text x="441.10" y="400.30" font-size="7.65" text-anchor="middle" fill="#1a1a1a" stroke="#1a1a1a" stroke-width="0.28" >150</text>
<line x1="467.50" y1="387.10" x2="467.50" y2="389.90" stroke="#1c1c1c" stroke-width="1.1" />
<text x="467.80" y="400.30" font-size="7.65" text-anchor="middle" fill="#1a1a1a" stroke="#1a1a1a" stroke-width="0.28" >180</text>
<line x1="494.50" y1="387.10" x2="494.50" y2="389.90" stroke="#1c1c1c" stroke-width="1.1" />
<text x="494.50" y="400.30" font-size="7.65" text-anchor="middle" fill="#1a1a1a" stroke="#1a1a1a" stroke-width="0.28" >210</text>
<line x1="308.75" y1="373.40" x2="511.00" y2="373.40" stroke="#1c1c1c" stroke-width="1.15" stroke-dasharray="2.9 2.33"/>
<text x="373.80" y="413.70" font-size="9.1" text-anchor="start" fill="#1a1a1a" stroke="#1a1a1a" stroke-width="0.28" textLength="73.2" lengthAdjust="spacingAndGlyphs" >Post T cell infusion</text>
<text x="316.00" y="257.00" font-size="7.6" text-anchor="start" font-weight="bold" fill="#000" stroke="#000" stroke-width="0.15" textLength="36.9" lengthAdjust="spacingAndGlyphs" >Rituximab</text>
<text transform="translate(282.70,315.8) rotate(-90)" font-size="8.7" text-anchor="middle" fill="#1a1a1a" stroke="#1a1a1a" stroke-width="0.28" textLength="72.3" lengthAdjust="spacingAndGlyphs">Rituximab (µg/mL)</text>
<text x="7.10" y="16.80" font-size="12.2" text-anchor="start" font-weight="bold" fill="#000" stroke="#000" stroke-width="0.15" >A</text>
<text x="7.60" y="238.80" font-size="11.2" text-anchor="start" font-weight="bold" fill="#000" stroke="#000" stroke-width="0.15" >B</text>
<rect x="0.5" y="0.5" width="519" height="422" fill="none" stroke="#111" stroke-width="1"/>
</svg>
</body></html>
